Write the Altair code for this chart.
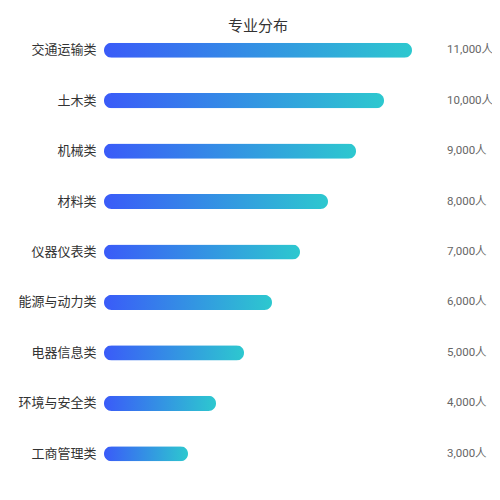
import altair as alt
import pandas as pd

categories = ["交通运输类", "土木类", "机械类", "材料类", "仪器仪表类", "能源与动力类", "电器信息类", "环境与安全类", "工商管理类"]
values = [11000, 10000, 9000, 8000, 7000, 6000, 5000, 4000, 3000]
labels = ["11,000人", "10,000人", "9,000人", "8,000人", "7,000人", "6,000人", "5,000人", "4,000人", "3,000人"]

df = pd.DataFrame({"cat": categories, "value": values, "label": labels})

FONT = "Noto Sans CJK SC"

y = alt.Y("cat:N", sort=categories, title=None,
          scale=alt.Scale(paddingInner=0.7, paddingOuter=0.35),
          axis=alt.Axis(domain=False, ticks=False, labelPadding=8, labelFontSize=13,
                        labelColor="#333333", labelFont=FONT, grid=False))

grad = alt.Gradient(
    gradient="linear",
    stops=[alt.GradientStop(color="#3a5bf8", offset=0), alt.GradientStop(color="#2dc8cf", offset=1)],
    x1=0, x2=1, y1=0, y2=0,
)

bars = alt.Chart(df).mark_bar(cornerRadius=7.5, color=grad).encode(
    x=alt.X("value:Q", scale=alt.Scale(domain=[0, 12000], nice=False), axis=None),
    y=y,
)

text = alt.Chart(df).mark_text(align="left", baseline="middle", fontSize=11.5, color="#666666",
                               font="Roboto, Noto Sans CJK SC").encode(
    x=alt.value(343),
    y=alt.Y("cat:N", sort=categories),
    text="label:N",
)

chart = alt.layer(bars, text).properties(
    width=336,
    height=454,
    autosize=alt.AutoSizeParams(type="none"),
    padding={"left": 96, "top": 17, "right": 52, "bottom": 10},
    title=alt.TitleParams("专业分布", fontSize=15, color="#333333", font=FONT, fontWeight="normal",
                          anchor="middle", dx=-14, offset=-9),
).configure_view(stroke=None)

chart.save("out.html", embed_options={"renderer": "svg", "actions": False})
